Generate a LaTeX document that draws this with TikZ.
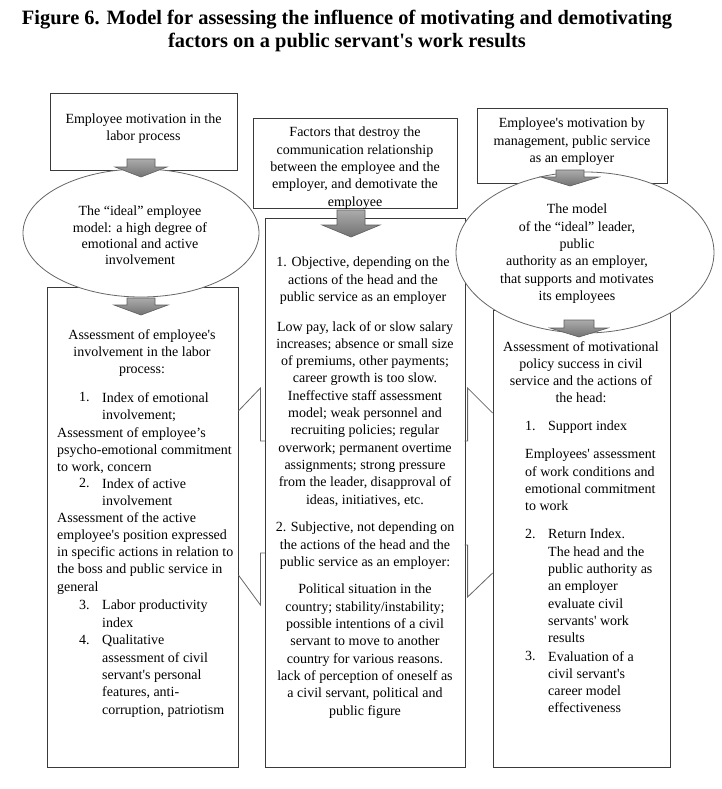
\documentclass[tikz,border=0pt]{standalone}
\usepackage{fontspec}
\setmainfont{Liberation Serif}[Ligatures=TeXReset]
\usetikzlibrary{shapes.geometric,positioning}
\definecolor{Ink}{HTML}{3A3A3A}
\definecolor{Edge}{HTML}{666666}
\definecolor{ArrowTop}{HTML}{ABABAB}
\definecolor{ArrowBot}{HTML}{727272}
\definecolor{ArrowEdge}{HTML}{5E5E5E}
\newcommand{\bodyfont}{\fontsize{14}{17.3}\selectfont}
\newcommand{\tightfont}{\fontsize{14}{16.3}\selectfont}
\tikzset{
  box/.style={draw=Ink,line width=.8pt,fill=white,inner sep=0pt},
  oval/.style={ellipse,draw=Edge,line width=.8pt,fill=white,inner sep=0pt},
  blockarr/.style={draw=ArrowEdge,line width=.6pt,top color=ArrowTop,bottom color=ArrowBot,line join=miter},
  sidearr/.style={draw=Edge,line width=.8pt,line join=miter},
  txt/.style={font=\bodyfont,align=center,inner sep=0pt,anchor=north},
  ltxt/.style={txt,align=left,anchor=north west},
  title/.style={font=\fontsize{20.4}{23}\selectfont\bfseries,align=center,inner sep=0pt,anchor=north}
}

\begin{document}
\begin{tikzpicture}[x=1pt,y=-1pt]
  \useasboundingbox (0,0) rectangle (721,789);

  \node[title] (ttl) at (347,10)
    {Figure 6. Model for assessing the influence of motivating and demotivating\\
     factors on a public servant's work results};

  % boxes
  \node[box,minimum width=187,minimum height=77]  (lt) at (143.5,131.5) {};
  \node[box,minimum width=191,minimum height=480] (lb) at (142.5,527) {};
  \node[box,minimum width=204,minimum height=90]  (mt) at (355,163) {};
  \node[box,minimum width=200,minimum height=549] (mb) at (365,492.5) {};
  \node[box,minimum width=190,minimum height=75]  (rt) at (572,145.5) {};
  \node[box,minimum width=177,minimum height=457] (rb) at (581.5,538.5) {};

  % ovals
  \node[oval,minimum width=236,minimum height=128] (le) at (141,233) {};
  \node[oval,minimum width=258,minimum height=161] (re) at (585,252.5) {};

  % side arrows
  \coordinate (s1) at (0,411);
  \coordinate (s2) at (0,413);
  \coordinate (s3) at (0,575);
  \coordinate (s4) at (0,573);
  \draw[sidearr] (lb.east |- s1) -- ++(22,-23) -- ++(0,53) -- ++(5,0);
  \draw[sidearr] (rb.west |- s2) -- ++(-25,-25) -- ++(0,53) -- ++(-3,0);
  \draw[sidearr] (lb.east |- s3) -- ++(22,30) -- ++(0,-52) -- ++(5,0);
  \draw[sidearr] (rb.west |- s4) -- ++(-25,24) -- ++(0,-52) -- ++(-3,0);

  % down arrows
  \coordinate (ar1) at (141,177);
  \coordinate (ar2) at (141,315);
  \coordinate (ar3) at (351,237);
  \coordinate (ar4) at (570,186);
  \coordinate (ar5) at (579,337);
  \draw[blockarr] (ar1) -- ++(-26,-10) -- ++(12,0) -- ++(0,-8) -- ++(28,0) -- ++(0,8) -- ++(12,0) -- cycle;
  \draw[blockarr] (ar2) -- ++(-27,-10) -- ++(13,0) -- ++(0,-7) -- ++(28,0) -- ++(0,7) -- ++(13,0) -- cycle;
  \draw[blockarr] (ar3) -- ++(-29,-12) -- ++(15,0) -- ++(0,-15) -- ++(28,0) -- ++(0,15) -- ++(15,0) -- cycle;
  \draw[blockarr] (ar4) -- ++(-29,-9) -- ++(15,0) -- ++(0,-7) -- ++(28,0) -- ++(0,7) -- ++(15,0) -- cycle;
  \draw[blockarr] (ar5) -- ++(-29,-9) -- ++(14,0) -- ++(0,-8) -- ++(30,0) -- ++(0,8) -- ++(14,0) -- cycle;

  % left column
  \node[txt,font=\tightfont] (lt-t) at (143.5,114) {Employee motivation in the\\labor process};
  \node[txt,font=\tightfont] (le-t) at (140,206)
    {The “ideal” employee\\model: a high degree of\\emotional and active\\involvement};
  \node[txt] (lb-h) at (142,329) {Assessment of employee's\\involvement in the labor\\process:};
  \node[ltxt] (lb-n1) at (79,392) {1.};
  \node[ltxt] (lb-i1) at (102,392) {Index of emotional\\involvement;};
  \node[ltxt] (lb-d1) at (57,427) {Assessment of employee’s\\psycho-emotional commitment\\to work, concern};
  \node[ltxt] (lb-n2) at (79,478) {2.};
  \node[ltxt] (lb-i2) at (102,478) {Index of active\\involvement};
  \node[ltxt] (lb-d2) at (57,512)
    {Assessment of the active\\employee's position expressed\\in specific actions in relation to\\the boss and public service in\\general};
  \node[ltxt] (lb-n3) at (79,600) {3.};
  \node[ltxt] (lb-i3) at (102,600) {Labor productivity\\index};
  \node[ltxt] (lb-n4) at (79,635) {4.};
  \node[ltxt] (lb-i4) at (102,635)
    {Qualitative\\assessment of civil\\servant's personal\\features, anti-\\corruption, patriotism};

  % middle column
  \node[txt] (mt-t) at (355,127)
    {Factors that destroy the\\communication relationship\\between the employee and the\\employer, and demotivate the\\employee};
  \node[txt] (mb-h1) at (363,257)
    {1. Objective, depending on the\\actions of the head and the\\public service as an employer};
  \node[txt] (mb-d1) at (365,321)
    {Low pay, lack of or slow salary\\increases; absence or small size\\of premiums, other payments;\\career growth is too slow.\\
     Ineffective staff assessment\\model; weak personnel and\\recruiting policies; regular\\overwork; permanent overtime\\
     assignments; strong pressure\\from the leader, disapproval of\\ideas, initiatives, etc.};
  \node[txt] (mb-h2) at (365,522)
    {2. Subjective, not depending on\\the actions of the head and the\\public service as an employer:};
  \node[txt] (mb-d2) at (365,584)
    {Political situation in the\\country; stability/instability;\\possible intentions of a civil\\servant to move to another\\
     country for various reasons.\\lack of perception of oneself as\\a civil servant, political and\\public figure};

  % right column
  \node[txt] (rt-t) at (572,118) {Employee's motivation by\\management, public service\\as an employer};
  \node[txt] (re-t) at (577,204)
    {The model\\of the “ideal” leader,\\public\\authority as an employer,\\that supports and motivates\\its employees};
  \node[txt] (rb-h) at (581,341)
    {Assessment of motivational\\policy success in civil\\service and the actions of\\the head:};
  \node[ltxt] (rb-n1) at (525,421) {1.};
  \node[ltxt] (rb-i1) at (548,421) {Support index};
  \node[ltxt] (rb-d1) at (525,449)
    {Employees' assessment\\of work conditions and\\emotional commitment\\to work};
  \node[ltxt] (rb-n2) at (525,529) {2.};
  \node[ltxt] (rb-i2) at (548,529)
    {Return Index.\\The head and the\\public authority as\\an employer\\evaluate civil\\servants' work\\results};
  \node[ltxt] (rb-n3) at (525,651) {3.};
  \node[ltxt] (rb-i3) at (548,651)
    {Evaluation of a\\civil servant's\\career model\\effectiveness};
\end{tikzpicture}
\end{document}
